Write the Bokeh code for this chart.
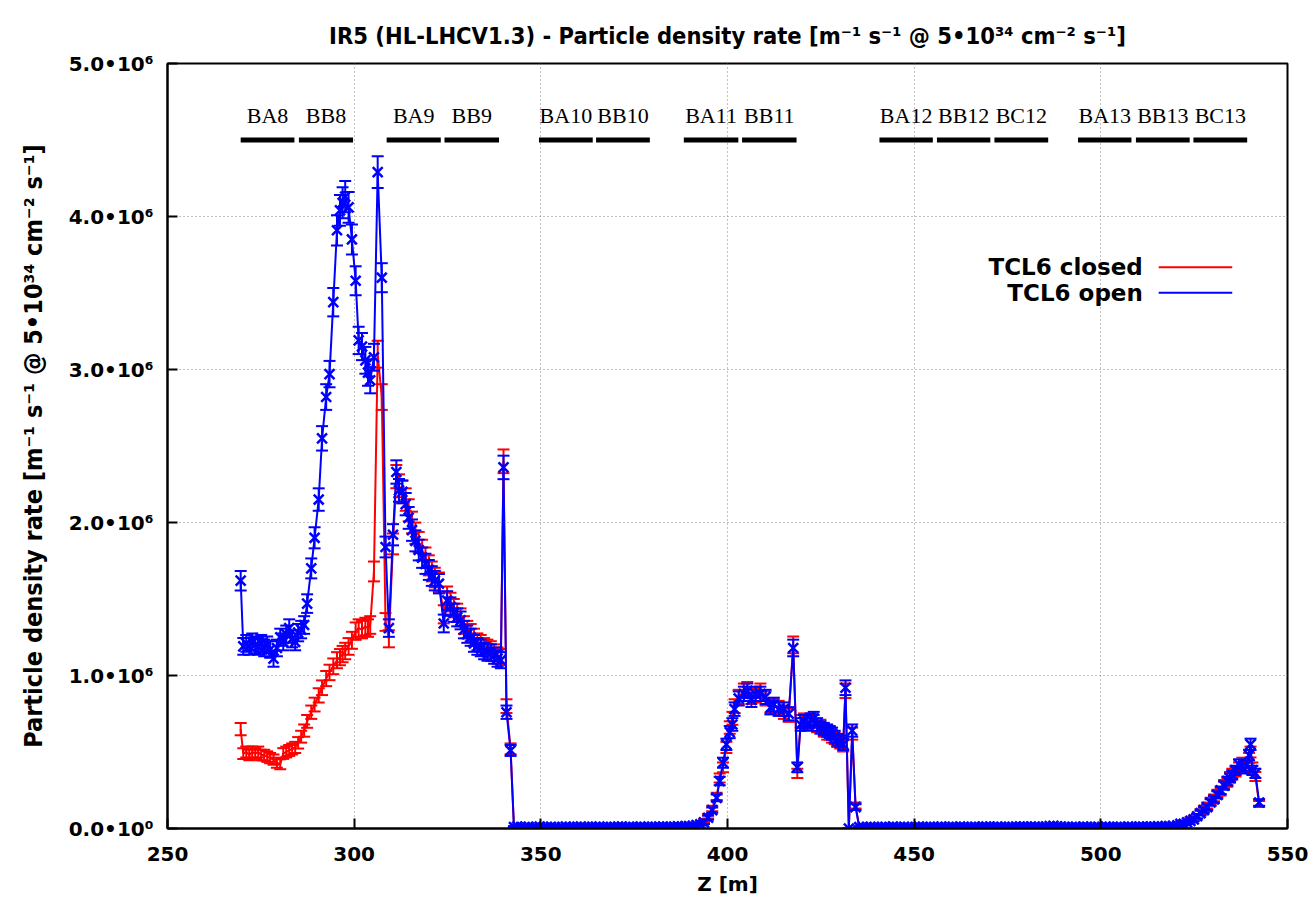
import numpy as np
from bokeh.plotting import figure
from bokeh.models import Range1d, FixedTicker
from bokeh.core.properties import value
from bokeh.embed import file_html
from bokeh.resources import INLINE

# ---------------- data (particle density rate in units of 1e6 m^-1 s^-1) ----------------
Z_PEAK = [269.6, 270.3, 271.1, 271.9, 272.7, 273.5, 274.3, 275.1, 275.9, 276.7,
          277.5, 278.4, 279.3, 280.2, 281.0, 281.8, 282.6, 283.4, 284.2, 285.0,
          285.8, 286.6, 287.4, 288.5, 289.4, 290.5, 291.4, 292.5, 293.4, 294.4,
          295.4, 296.2, 296.9, 297.6, 298.5, 299.4, 300.4, 301.2, 302.1, 303.0,
          303.7, 304.3, 305.3, 306.3, 307.4, 308.4, 309.3, 310.4, 311.3, 312.0,
          312.9, 313.8, 314.6, 315.5, 316.4, 317.3, 318.2, 319.1, 320.0, 320.8,
          321.6, 322.7, 324.0, 324.9, 325.8, 326.7, 327.6, 328.5, 329.4, 330.3,
          331.2, 332.1, 333.0, 333.9, 334.8, 335.7, 336.6, 337.5, 338.4, 339.3,
          340.0, 340.8, 341.9, 342.8]
OPEN_PEAK = [1.62, 1.19, 1.21, 1.19, 1.22, 1.20, 1.19, 1.21, 1.18, 1.20,
             1.17, 1.11, 1.18, 1.25, 1.22, 1.27, 1.31, 1.24, 1.22, 1.28,
             1.30, 1.33, 1.47, 1.70, 1.90, 2.15, 2.55, 2.82, 2.97, 3.44,
             3.91, 4.04, 4.09, 4.13, 4.06, 3.85, 3.58, 3.19, 3.15, 3.06,
             2.98, 2.93, 3.08, 4.29, 3.60, 1.84, 1.31, 1.92, 2.33, 2.21,
             2.20, 2.12, 2.03, 1.95, 1.88, 1.82, 1.77, 1.73, 1.69, 1.65,
             1.62, 1.60, 1.34, 1.49, 1.45, 1.41, 1.38, 1.36, 1.30, 1.27,
             1.25, 1.21, 1.19, 1.18, 1.16, 1.15, 1.15, 1.13, 1.11, 1.10,
             2.36, 0.76, 0.51, 0.01]
CLOSED_PEAK = [0.65, 0.49, 0.50, 0.48, 0.50, 0.49, 0.50, 0.48, 0.48, 0.47,
               0.46, 0.45, 0.43, 0.42, 0.49, 0.50, 0.51, 0.52, 0.53, 0.56,
               0.60, 0.64, 0.70, 0.76, 0.81, 0.87, 0.92, 0.98, 1.02, 1.06,
               1.10, 1.12, 1.14, 1.16, 1.19, 1.23, 1.29, 1.31, 1.30, 1.32,
               1.31, 1.33, 1.68, 3.10, 2.82, 1.35, 1.24, 1.86, 2.30, 2.24,
               2.20, 2.15, 2.08, 2.00, 1.93, 1.87, 1.82, 1.77, 1.72, 1.68,
               1.64, 1.61, 1.40, 1.52, 1.48, 1.44, 1.41, 1.38, 1.33, 1.30,
               1.28, 1.25, 1.22, 1.21, 1.19, 1.18, 1.17, 1.15, 1.13, 1.12,
               2.40, 0.80, 0.52, 0.01]

Z_FLAT1 = [343.7, 344.7, 345.7, 346.7, 347.7, 348.7, 349.7, 350.7, 351.7, 352.7,
           353.7, 354.7, 355.7, 356.7, 357.7, 358.7, 359.7, 360.7, 361.7, 362.7,
           363.7, 364.7, 365.7, 366.7, 367.7, 368.7, 369.7, 370.7, 371.7, 372.7,
           373.7, 374.7, 375.7, 376.7, 377.7, 378.7, 379.7, 380.7, 381.7, 382.7,
           383.7, 384.7, 385.7, 386.7, 387.7, 388.7, 389.7, 390.7, 391.7, 392.7]
OPEN_FLAT1 = [0.012, 0.010, 0.009, 0.011, 0.008, 0.010, 0.012, 0.009, 0.010, 0.011,
              0.009, 0.008, 0.010, 0.012, 0.011, 0.009, 0.010, 0.013, 0.011, 0.010,
              0.009, 0.011, 0.012, 0.010, 0.008, 0.009, 0.011, 0.013, 0.012, 0.010,
              0.011, 0.009, 0.010, 0.012, 0.011, 0.010, 0.009, 0.011, 0.013, 0.012,
              0.010, 0.011, 0.012, 0.014, 0.013, 0.015, 0.016, 0.018, 0.022, 0.028]
CLOSED_FLAT1 = [0.011, 0.012, 0.010, 0.009, 0.010, 0.011, 0.010, 0.012, 0.009, 0.010,
                0.011, 0.010, 0.009, 0.011, 0.012, 0.010, 0.011, 0.012, 0.010, 0.009,
                0.010, 0.012, 0.011, 0.009, 0.010, 0.011, 0.010, 0.012, 0.013, 0.011,
                0.010, 0.010, 0.012, 0.011, 0.009, 0.011, 0.010, 0.012, 0.012, 0.013,
                0.011, 0.012, 0.013, 0.013, 0.014, 0.016, 0.017, 0.020, 0.024, 0.030]

Z_MID = [393.7, 394.8, 395.9, 397.1, 397.9, 398.8, 399.7, 400.6, 401.3, 401.9,
         403.0, 404.4, 405.3, 406.4, 407.5, 408.8, 410.2, 411.5, 412.4, 413.7,
         415.1, 416.4, 417.6, 418.7, 419.6, 420.5, 421.4, 422.3, 423.1, 424.0,
         424.9, 425.8, 426.7, 427.4, 428.0, 428.7, 429.4, 430.2, 431.0, 431.6,
         432.5, 433.4, 434.3, 435.3]
OPEN_MID = [0.04, 0.07, 0.12, 0.20, 0.31, 0.43, 0.55, 0.63, 0.68, 0.78,
            0.85, 0.88, 0.90, 0.84, 0.88, 0.88, 0.86, 0.79, 0.81, 0.78,
            0.78, 0.75, 1.18, 0.40, 0.68, 0.70, 0.68, 0.71, 0.72, 0.68,
            0.66, 0.65, 0.64, 0.63, 0.62, 0.60, 0.58, 0.57, 0.55, 0.92,
            0.00, 0.64, 0.14, 0.01]
CLOSED_MID = [0.05, 0.08, 0.13, 0.21, 0.33, 0.40, 0.53, 0.66, 0.72, 0.80,
              0.86, 0.90, 0.91, 0.86, 0.87, 0.90, 0.85, 0.80, 0.80, 0.79,
              0.76, 0.74, 1.20, 0.36, 0.70, 0.71, 0.69, 0.70, 0.70, 0.67,
              0.67, 0.64, 0.62, 0.62, 0.60, 0.59, 0.57, 0.56, 0.54, 0.90,
              0.00, 0.62, 0.15, 0.01]

Z_FLAT2 = [436.3, 437.3, 438.3, 439.3, 440.3, 441.3, 442.3, 443.3, 444.3, 445.3,
           446.3, 447.3, 448.3, 449.3, 450.3, 451.3, 452.3, 453.3, 454.3, 455.3,
           456.3, 457.3, 458.3, 459.3, 460.3, 461.3, 462.3, 463.3, 464.3, 465.3,
           466.3, 467.3, 468.3, 469.3, 470.3, 471.3, 472.3, 473.3, 474.3, 475.3,
           476.3, 477.3, 478.3, 479.3, 480.3, 481.3, 482.3, 483.3, 484.3, 485.3,
           486.3, 487.3, 488.3, 489.3, 490.3, 491.3, 492.3, 493.3, 494.3, 495.3,
           496.3, 497.3, 498.3, 499.3, 500.3, 501.3, 502.3, 503.3, 504.3, 505.3,
           506.3, 507.3, 508.3, 509.3, 510.3, 511.3, 512.3, 513.3, 514.3, 515.3,
           516.3, 517.3, 518.3, 519.3]
OPEN_FLAT2 = [0.010, 0.009, 0.011, 0.010, 0.008, 0.009, 0.011, 0.010, 0.012, 0.009,
              0.010, 0.011, 0.009, 0.008, 0.010, 0.012, 0.011, 0.010, 0.009, 0.010,
              0.011, 0.012, 0.010, 0.009, 0.011, 0.010, 0.012, 0.011, 0.009, 0.010,
              0.011, 0.010, 0.012, 0.013, 0.011, 0.010, 0.012, 0.011, 0.010, 0.009,
              0.011, 0.012, 0.013, 0.012, 0.011, 0.013, 0.012, 0.011, 0.010, 0.012,
              0.016, 0.018, 0.014, 0.012, 0.011, 0.010, 0.009, 0.011, 0.010, 0.012,
              0.011, 0.009, 0.010, 0.011, 0.010, 0.012, 0.011, 0.010, 0.009, 0.011,
              0.010, 0.012, 0.011, 0.010, 0.012, 0.013, 0.011, 0.012, 0.013, 0.014,
              0.013, 0.015, 0.016, 0.018]
CLOSED_FLAT2 = [0.011, 0.010, 0.010, 0.012, 0.009, 0.010, 0.010, 0.011, 0.011, 0.010,
                0.009, 0.012, 0.010, 0.009, 0.011, 0.011, 0.010, 0.011, 0.010, 0.009,
                0.012, 0.011, 0.011, 0.010, 0.010, 0.011, 0.011, 0.012, 0.010, 0.009,
                0.010, 0.011, 0.011, 0.012, 0.012, 0.011, 0.011, 0.010, 0.011, 0.010,
                0.012, 0.011, 0.012, 0.013, 0.012, 0.012, 0.013, 0.012, 0.011, 0.013,
                0.017, 0.019, 0.015, 0.013, 0.010, 0.011, 0.010, 0.010, 0.011, 0.011,
                0.010, 0.010, 0.011, 0.010, 0.011, 0.011, 0.012, 0.011, 0.010, 0.010,
                0.011, 0.011, 0.012, 0.011, 0.011, 0.012, 0.012, 0.013, 0.012, 0.015,
                0.014, 0.016, 0.017, 0.019]

Z_TAIL = [520.5, 521.3, 522.2, 523.1, 524.0, 524.9, 525.8, 526.7, 527.6, 528.5,
          529.4, 530.3, 531.2, 532.1, 533.0, 533.9, 534.6, 535.2, 536.1, 537.0,
          537.9, 538.8, 539.7, 540.1, 540.6, 541.4, 542.4]
OPEN_TAIL = [0.02, 0.03, 0.03, 0.04, 0.05, 0.06, 0.08, 0.10, 0.12, 0.14,
             0.17, 0.19, 0.22, 0.25, 0.28, 0.31, 0.33, 0.35, 0.38, 0.42,
             0.39, 0.41, 0.48, 0.55, 0.38, 0.36, 0.17]
CLOSED_TAIL = [0.02, 0.03, 0.04, 0.04, 0.06, 0.07, 0.08, 0.11, 0.13, 0.15,
               0.18, 0.20, 0.23, 0.24, 0.29, 0.30, 0.34, 0.36, 0.37, 0.40,
               0.43, 0.40, 0.46, 0.50, 0.40, 0.34, 0.16]

# statistical error scale (error ~ ERR_SCALE * sqrt(value))
ERR_SCALE = 0.05

# magnet layout labels
MAGNETS = ["BA8", "BB8", "BA9", "BB9", "BA10", "BB10", "BA11", "BB11",
           "BA12", "BB12", "BC12", "BA13", "BB13", "BC13"]
MAG_START = [269.6, 285.2, 308.7, 324.2, 349.5, 364.8, 388.3, 403.9,
             440.7, 456.1, 471.5, 493.9, 509.4, 524.8]
MAG_END = [284.0, 299.7, 323.2, 338.8, 363.9, 379.2, 402.9, 418.5,
           455.0, 470.4, 485.9, 508.2, 523.8, 539.2]

SERIES = ["TCL6 closed", "TCL6 open"]
X_TICKS = [250, 300, 350, 400, 450, 500, 550]
Y_TICKS = [0, 1, 2, 3, 4, 5]
Y_TICK_LABELS = ["0.0•10⁰", "1.0•10⁶", "2.0•10⁶", "3.0•10⁶", "4.0•10⁶", "5.0•10⁶"]

TITLE = "IR5 (HL-LHCV1.3) - Particle density rate [m⁻¹ s⁻¹ @ 5•10³⁴ cm⁻² s⁻¹]"
Y_LABEL = "Particle density rate [m⁻¹ s⁻¹ @ 5•10³⁴ cm⁻² s⁻¹]"
X_LABEL = "Z [m]"

# ---------------- assemble ----------------
z_all = np.array(Z_PEAK + Z_FLAT1 + Z_MID + Z_FLAT2 + Z_TAIL)
v_open = np.array(OPEN_PEAK + OPEN_FLAT1 + OPEN_MID + OPEN_FLAT2 + OPEN_TAIL)
v_closed = np.array(CLOSED_PEAK + CLOSED_FLAT1 + CLOSED_MID + CLOSED_FLAT2 + CLOSED_TAIL)
assert len(z_all) == len(v_open) == len(v_closed)

RED = "#ff0000"
BLUE = "#0000ff"

p = figure(width=1312, height=906, x_range=Range1d(250, 550), y_range=Range1d(0, 5),
           output_backend="svg", toolbar_location=None, title=TITLE,
           min_border_left=167, min_border_right=25, min_border_top=63, min_border_bottom=78)
p.background_fill_color = "white"
p.border_fill_color = "white"
p.outline_line_color = "black"
p.outline_line_width = 2

p.title.align = "center"
p.title.text_font = "DejaVu Sans Condensed"
p.title.text_font_style = "bold"
p.title.text_font_size = "23.5px"
p.title.text_color = "black"
p.title.standoff = 28

for ax in (p.xaxis[0], p.yaxis[0]):
    ax.axis_line_width = 2
    ax.axis_line_color = "black"
    ax.major_tick_in = 10
    ax.major_tick_out = 0
    ax.major_tick_line_width = 2
    ax.minor_tick_line_color = None
    ax.major_label_text_font = "DejaVu Sans"
    ax.major_label_text_font_style = "bold"
    ax.major_label_text_font_size = "20px"
    ax.major_label_text_color = "black"
    ax.axis_label_text_font_style = "bold"
    ax.axis_label_text_color = "black"

p.xaxis.ticker = FixedTicker(ticks=X_TICKS)
p.yaxis.ticker = FixedTicker(ticks=Y_TICKS)
p.yaxis.major_label_overrides = {t: lab for t, lab in zip(Y_TICKS, Y_TICK_LABELS)}
p.xaxis.major_label_standoff = 18
p.yaxis.major_label_standoff = 14

p.xaxis.axis_label = X_LABEL
p.xaxis.axis_label_text_font = "DejaVu Sans"
p.xaxis.axis_label_text_font_size = "20px"
p.xaxis.axis_label_standoff = 8
p.yaxis.axis_label = Y_LABEL
p.yaxis.axis_label_text_font = "DejaVu Sans Condensed"
p.yaxis.axis_label_text_font_size = "25px"
p.yaxis.axis_label_standoff = 18

p.grid.grid_line_color = "#808080"
p.grid.grid_line_dash = "1 3"
p.grid.grid_line_width = 1


def draw_series(z, v, color, marker):
    err = ERR_SCALE * np.sqrt(v)
    up = v + err
    lo = np.clip(v - err, 0, None)
    p.segment(x0=z, y0=lo, x1=z, y1=up, line_color=color, line_width=2)
    p.scatter(x=z, y=up, marker="dash", size=12, line_color=color, line_width=2)
    p.scatter(x=z, y=lo, marker="dash", size=12, line_color=color, line_width=2)
    p.line(x=z, y=v, line_color=color, line_width=2)
    if marker:
        p.scatter(x=z, y=v, marker=marker, size=14, line_color=color, line_width=2.5)


draw_series(z_all, v_closed, RED, None)
draw_series(z_all, v_open, BLUE, "x")

# magnets
MAG_Y = 4.5
mag_center = [(a + b) / 2 for a, b in zip(MAG_START, MAG_END)]
p.segment(x0=MAG_START, y0=[MAG_Y] * len(MAGNETS), x1=MAG_END, y1=[MAG_Y] * len(MAGNETS),
          line_color="black", line_width=5, line_cap="butt")
p.text(x=mag_center, y=[MAG_Y + 0.16] * len(MAGNETS), text=MAGNETS,
       text_font=value("Liberation Serif"), text_font_size="22px",
       text_align="center", text_baseline="middle", text_color="black")

# legend (label on the left, line sample on the right)
LEG_Y = [3.669, 3.501]
p.text(x=[511.25, 511.25], y=LEG_Y, text=SERIES, text_font=value("DejaVu Sans"),
       text_font_style="bold", text_font_size="23px", text_align="right",
       text_baseline="middle", text_color="black")
p.segment(x0=[515.5, 515.5], y0=LEG_Y, x1=[535.2, 535.2], y1=LEG_Y,
          line_color=[RED, BLUE], line_width=2)

open("out.html", "w").write(file_html(p, INLINE))
